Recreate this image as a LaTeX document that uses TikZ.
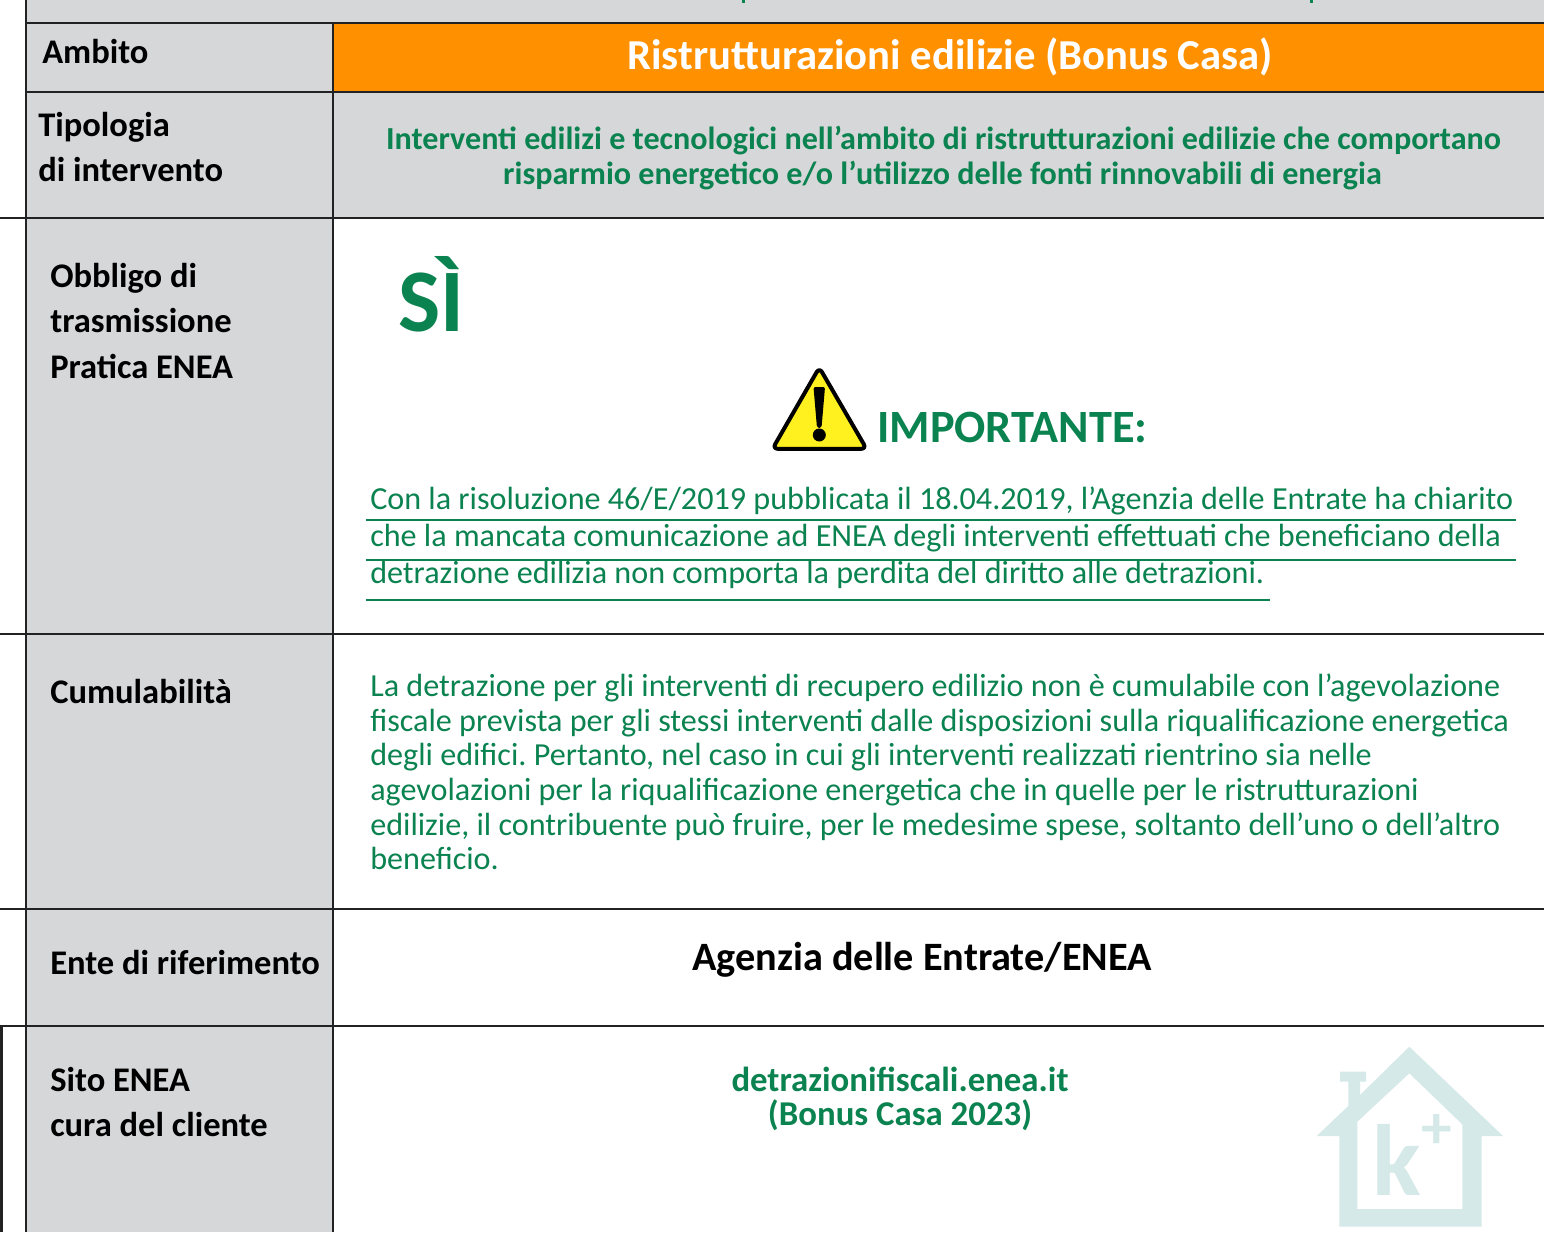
\documentclass[tikz,border=0pt]{standalone}
\usepackage{fontspec}
\setmainfont{Carlito}
\definecolor{cellgray}{HTML}{D6D7D9}
\definecolor{headorange}{HTML}{FF9100}
\definecolor{txtgreen}{HTML}{0B8350}
\definecolor{rulec}{HTML}{222222}
\definecolor{housec}{HTML}{D5E9E8}
\definecolor{warny}{HTML}{FFF01F}
\newcommand{\fs}[1]{\frenchspacing\fontsize{#1}{#1}\selectfont}
\tikzset{
  tl/.style={inner sep=0pt,anchor=base west,text=black,font=\bfseries\fs{25.9}},
  body/.style={inner sep=0pt,anchor=base west,text=txtgreen,font=\fs{24.1}},
  mid/.style={inner sep=0pt,anchor=base,text=txtgreen,font=\bfseries\fs{24.1}},
  rl/.style={draw=rulec,line width=1.5pt},
  ul/.style={draw=txtgreen,line width=1.5pt},
}
\begin{document}
\begin{tikzpicture}[x=0.75pt,y=-0.75pt]
\useasboundingbox (0,0) rectangle (1544,1232);
\fill[white] (0,0) rectangle (1544,1232);
% fills
\fill[cellgray] (26,0) rectangle (1544,23);
\fill[cellgray] (26,23) rectangle (333,1232);
\fill[cellgray] (333,92) rectangle (1544,218);
\fill[headorange] (333,23) rectangle (1544,92);
% clipped descenders of the cut-off title
\fill[txtgreen] (741.5,0) rectangle (745,3);
\fill[txtgreen] (1309.5,0) rectangle (1313,3);
% watermark
\fill[housec,even odd rule]
  (1409.3,1046.7) -- (1503,1136) -- (1481.7,1136) -- (1481.7,1226.7) -- (1339.3,1226.7) -- (1339.3,1136) -- (1316.7,1136) -- (1348.3,1106) -- (1348.3,1081.7) -- (1340,1081.7) -- (1340,1071.7) -- (1366,1071.7) -- (1366,1081.7) -- (1360,1081.7) -- (1360,1095) -- cycle
  (1409.3,1073.3) -- (1462.3,1124.3) -- (1462.3,1209) -- (1357.3,1209) -- (1357.3,1121.7) -- cycle;
\node[inner sep=0pt,anchor=base west,text=housec,font=\bfseries\fs{76}] (wmk) at (1372,1195) {k};
\node[inner sep=0pt,anchor=center,text=housec,font=\bfseries\fs{46}] (wmp) at (1437,1131) {+};
% rules
\draw[rl] (26,0) -- (26,1232);
\draw[rl] (333,23) -- (333,1232);
\draw[rl] (26,23) -- (1544,23);
\draw[rl] (26,92) -- (1544,92);
\draw[rl] (0,218) -- (1544,218);
\draw[rl] (0,634) -- (1544,634);
\draw[rl] (0,909) -- (1544,909);
\draw[rl] (0,1026) -- (1544,1026);
\draw[rl] (1.5,1026) -- (1.5,1232);
% left column
\node[tl] (a1) at (42,63) {Ambito};
\node[tl] (a2) at (38,136) {Tipologia};
\node[tl] (a3) at (38,181) {di intervento};
\node[tl] (a4) at (50,287) {Obbligo di};
\node[tl] (a5) at (50,332) {trasmissione};
\node[tl] (a6) at (50,378) {Pratica ENEA};
\node[tl] (a7) at (50,703) {Cumulabilità};
\node[tl] (a8) at (50,974) {Ente di riferimento};
\node[tl] (a9) at (50,1091) {Sito ENEA};
\node[tl] (a10) at (50,1136) {cura del cliente};
% right column
\node[inner sep=0pt,anchor=base,text=white,font=\bfseries\fs{32}] (h) at (950,69) {Ristrutturazioni edilizie (Bonus Casa)};
\node[mid] (t1) at (943.5,149.5) {Interventi edilizi e tecnologici nell’ambito di ristrutturazioni edilizie che comportano};
\node[mid] (t2) at (942.5,184.5) {risparmio energetico e/o l’utilizzo delle fonti rinnovabili di energia};
\node[inner sep=0pt,anchor=base west,text=txtgreen,font=\bfseries\fs{67}] (si) at (398,331) {SÌ};
% warning triangle
\draw[black,fill=warny,line width=3pt,line join=round,rounded corners=4pt] (819.3,367.5) -- (866.5,448.8) -- (772.5,448.8) -- cycle;
\fill[black,rounded corners=1.5pt] (813.5,387) -- (825,387) -- (821.5,428) -- (817,428) -- cycle;
\fill[black] (819.3,435) circle (6.5);
\node[inner sep=0pt,anchor=base west,text=txtgreen,font=\bfseries\fs{34.7}] (imp) at (877,442) {IMPORTANTE:};
% note
\node[body] (n1) at (370,509) {Con la risoluzione 46/E/2019 pubblicata il 18.04.2019, l’Agenzia delle Entrate ha chiarito};
\node[body] (n2) at (370,546) {che la mancata comunicazione ad ENEA degli interventi effettuati che beneficiano della};
\node[body] (n3) at (370,583.5) {detrazione edilizia non comporta la perdita del diritto alle detrazioni.};
\draw[ul] (366,520) -- (1516,520);
\draw[ul] (366,560) -- (1516,560);
\draw[ul] (366,600) -- (1270,600);
% cumulabilita
\node[body] (c1) at (370,696.5) {La detrazione per gli interventi di recupero edilizio non è cumulabile con l’agevolazione};
\node[body] (c2) at (370,731.5) {fiscale prevista per gli stessi interventi dalle disposizioni sulla riqualificazione energetica};
\node[body] (c3) at (370,765.5) {degli edifici. Pertanto, nel caso in cui gli interventi realizzati rientrino sia nelle};
\node[body] (c4) at (370,800.5) {agevolazioni per la riqualificazione energetica che in quelle per le ristrutturazioni};
\node[body] (c5) at (370,835.5) {edilizie, il contribuente può fruire, per le medesime spese, soltanto dell’uno o dell’altro};
\node[body] (c6) at (370,869.5) {beneficio.};
% ente, sito
\node[inner sep=0pt,anchor=base,text=black,font=\bfseries\fs{30.2}] (en) at (922,970) {Agenzia delle Entrate/ENEA};
\node[mid,font=\bfseries\fs{26.1}] (s1) at (900,1091) {detrazionifiscali.enea.it};
\node[mid,font=\bfseries\fs{26.1}] (s2) at (900,1125.5) {(Bonus Casa 2023)};
\end{tikzpicture}
\end{document}
